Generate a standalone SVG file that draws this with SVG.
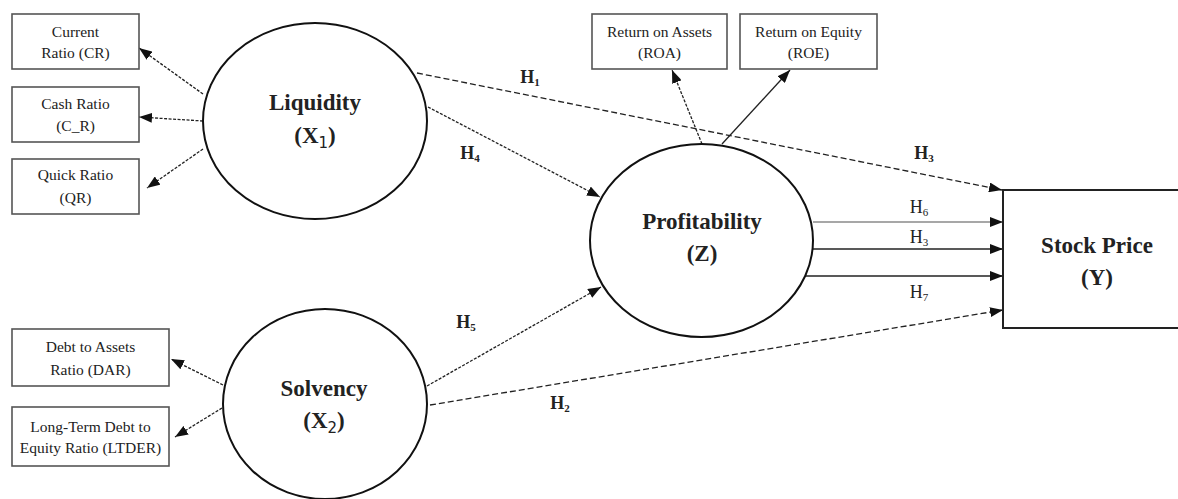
<svg xmlns="http://www.w3.org/2000/svg" width="1178" height="499" viewBox="0 0 1178 499">
<style>
.bg{fill:#fff}
.ind rect{fill:#fff;stroke:#555;stroke-width:1.6}
.ind text{font-family:"Liberation Serif",serif;font-size:15.5px;fill:#222;text-anchor:middle}
.lat ellipse{fill:#fff;stroke:#111;stroke-width:2}
.lat text,.dep text{font-family:"Liberation Serif",serif;font-size:23px;font-weight:bold;fill:#222;text-anchor:middle}
.dep rect{fill:#fff;stroke:#222;stroke-width:2}
.c line{stroke:#222;stroke-width:1.3;fill:none;marker-end:url(#ah)}
.dot{stroke-dasharray:3 1.5}
.dash{stroke-dasharray:6 3}
.gray{stroke:#8a8a8a !important}
.lbl text{font-family:"Liberation Serif",serif;font-size:18px;fill:#222;text-anchor:middle}
.lbl text.b{font-weight:bold}
.sub{font-size:11px}
</style>
<defs>
<marker id="ah" viewBox="0 0 13 10" refX="13" refY="5" markerWidth="13" markerHeight="10" markerUnits="userSpaceOnUse" orient="auto">
<path d="M0,0 L13,5 L0,10 z" fill="#111"/>
</marker>
</defs>
<rect class="bg" x="0" y="0" width="1178" height="499"/>

<g id="connectors" class="c">
<line class="dot" x1="203" y1="94" x2="139" y2="48"/>
<line class="dot" x1="203" y1="121" x2="139" y2="117"/>
<line class="dot" x1="203" y1="149" x2="147" y2="188"/>
<line class="dot" x1="223" y1="385" x2="171" y2="359"/>
<line class="dot" x1="222" y1="408" x2="175" y2="437"/>
<line class="dot" x1="702" y1="144" x2="672" y2="70"/>
<line x1="722" y1="144" x2="790" y2="70"/>
<line class="dash" x1="417" y1="73" x2="1002" y2="190"/>
<line class="dot" x1="428" y1="107" x2="600" y2="197"/>
<line class="gray" x1="813" y1="222" x2="1003" y2="222"/>
<line x1="813" y1="249" x2="1003" y2="249"/>
<line x1="806" y1="276" x2="1003" y2="276"/>
<line class="dot" x1="427" y1="386" x2="601" y2="287"/>
<line class="dash" x1="430" y1="405" x2="1003" y2="310"/>
</g>

<g id="cr" class="ind"><rect x="12" y="14" width="127" height="55"/><text x="75.5" y="37">Current</text><text x="75.5" y="58">Ratio (CR)</text></g>
<g id="c_r" class="ind"><rect x="12" y="87" width="127" height="55"/><text x="75.5" y="109">Cash Ratio</text><text x="75.5" y="131">(C_R)</text></g>
<g id="qr" class="ind"><rect x="12" y="159" width="127" height="55"/><text x="75.5" y="180">Quick Ratio</text><text x="75.5" y="203">(QR)</text></g>
<g id="dar" class="ind"><rect x="12" y="329" width="157" height="57"/><text x="90.5" y="352">Debt to Assets</text><text x="90.5" y="375">Ratio (DAR)</text></g>
<g id="ltder" class="ind"><rect x="12" y="407" width="157" height="59"/><text x="90.5" y="432">Long-Term Debt to</text><text x="90.5" y="453">Equity Ratio (LTDER)</text></g>
<g id="roa" class="ind"><rect x="592" y="14" width="135" height="55"/><text x="659.5" y="37">Return on Assets</text><text x="659.5" y="58">(ROA)</text></g>
<g id="roe" class="ind"><rect x="740" y="14" width="137" height="55"/><text x="808.5" y="37">Return on Equity</text><text x="808.5" y="58">(ROE)</text></g>

<g id="liquidity" class="lat"><ellipse cx="315" cy="121" rx="112" ry="98"/><text x="315" y="110">Liquidity</text><text x="315" y="143">(X<tspan dy="5" font-size="15" font-family="'DejaVu Sans',sans-serif" font-weight="normal">1</tspan><tspan dy="-5">)</tspan></text></g>
<g id="solvency" class="lat"><ellipse cx="325" cy="404" rx="102" ry="95"/><text x="324" y="396">Solvency</text><text x="324" y="428">(X<tspan dy="5" font-size="15" font-family="'DejaVu Sans',sans-serif" font-weight="normal">2</tspan><tspan dy="-5">)</tspan></text></g>
<g id="profitability" class="lat"><ellipse cx="701.5" cy="240.5" rx="111.5" ry="96.5"/><text x="702" y="229">Profitability</text><text x="702" y="261">(Z)</text></g>
<g id="stockprice" class="dep"><rect x="1003" y="190" width="185" height="138"/><text x="1097" y="253">Stock Price</text><text x="1097" y="285">(Y)</text></g>

<g id="labels" class="lbl">
<text class="b" x="530" y="83">H<tspan class="sub" dy="3">1</tspan></text>
<text class="b" x="470" y="159">H<tspan class="sub" dy="3">4</tspan></text>
<text class="b" x="924" y="159">H<tspan class="sub" dy="3">3</tspan></text>
<text x="919" y="213">H<tspan class="sub" dy="3">6</tspan></text>
<text x="919" y="243">H<tspan class="sub" dy="3">3</tspan></text>
<text x="919" y="298">H<tspan class="sub" dy="3">7</tspan></text>
<text class="b" x="466" y="328">H<tspan class="sub" dy="3">5</tspan></text>
<text class="b" x="560" y="409">H<tspan class="sub" dy="3">2</tspan></text>
</g>
</svg>
